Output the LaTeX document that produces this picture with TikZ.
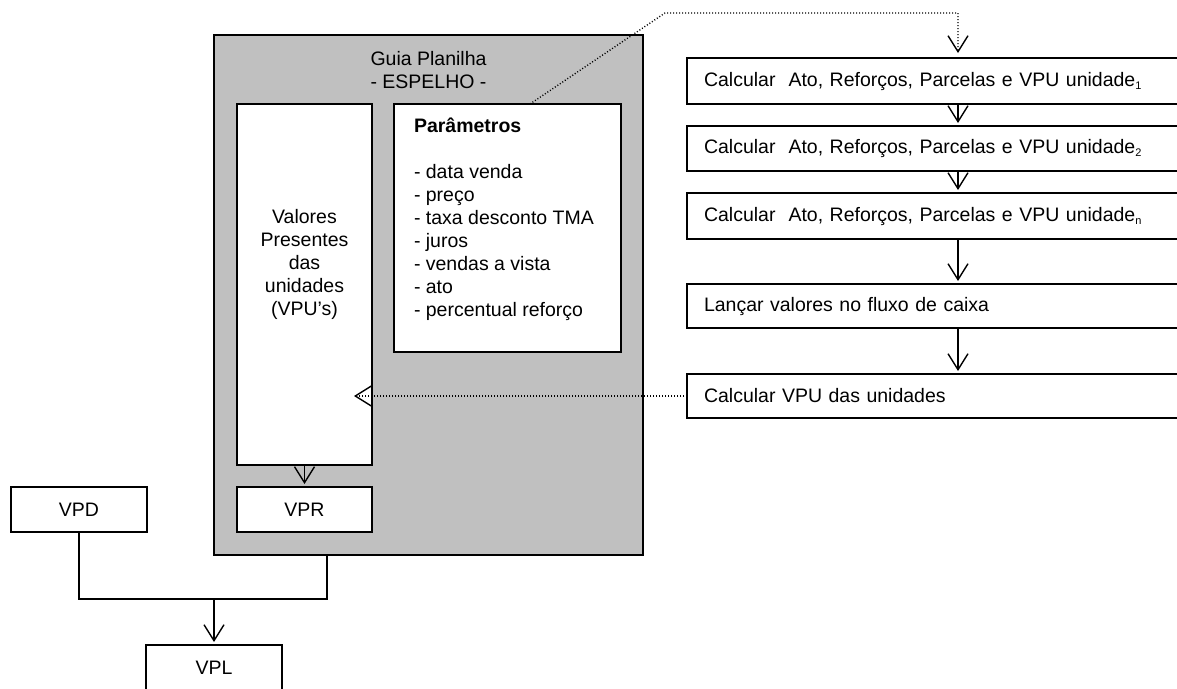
\documentclass[tikz,border=0pt]{standalone}
\usepackage{fontspec}
\setmainfont{Liberation Sans}
\usetikzlibrary{arrows.meta,calc}
\definecolor{panelgrey}{HTML}{C0C0C0}
\begin{document}
\begin{tikzpicture}[x=1pt,y=-1pt,
  every node/.style={font=\fontsize{19.5}{23}\selectfont, inner sep=0pt, outer sep=0pt},
  box/.style={draw, line width=1.9pt, fill=white, rectangle},
  rbox/.style={box, text width=474pt, align=left, inner xsep=17pt, minimum height=45pt},
  arr/.style={line width=1.4pt, -{Straight Barb[length=16pt,width=20pt]}, shorten >=3pt},
  dots/.style={line width=1.1pt, dash pattern=on 1pt off 2pt},
  sub/.style={font=\fontsize{11}{12}\selectfont},
]
\useasboundingbox (0,0) rectangle (1177,688);
\clip (0,0) rectangle (1177,688);

% spreadsheet panel
\node[box, fill=panelgrey, line width=2.7pt, minimum width=429pt, minimum height=520pt] (guia) at (428.5,295) {};
\node[align=center] (titulo) at (428.5,70.5) {Guia Planilha\\- ESPELHO -};

\node[box, minimum width=135pt, minimum height=361pt] (vpu) at (304.5,284.5) {};
\node[align=center] (vputxt) at (304.5,264) {Valores\\Presentes\\das\\unidades\\(VPU’s)};

\node[box, minimum width=227pt, minimum height=248pt] (param) at (507.5,228) {};
\node[align=left, anchor=west] (paramtxt) at (414,219) {\textbf{Parâmetros}\\[23pt]- data venda\\- preço\\- taxa desconto TMA\\- juros\\- vendas a vista\\- ato\\- percentual reforço};

\node[box, minimum width=135pt, minimum height=45pt] (vpr) at (304.5,509.5) {VPR};

% outside boxes
\node[box, minimum width=136.5pt, minimum height=45pt] (vpd) at (79,509.5) {VPD};
\node[box, minimum width=135.5pt, minimum height=45pt] (vpl) at (214,667.5) {VPL};

% calculation steps
\newcommand{\unidx}[1]{unidade\raisebox{-3pt}{\fontsize{11}{12}\selectfont #1}}
\node[rbox, minimum height=46pt] (c1) at (941,81) {Calcular~~Ato, Reforços, Parcelas e VPU \unidx{1}};
\node[rbox] (c2) at (941,148.5) {Calcular~~Ato, Reforços, Parcelas e VPU \unidx{2}};
\node[rbox, minimum height=46pt] (cn) at (941,216) {Calcular~~Ato, Reforços, Parcelas e VPU \unidx{n}};
\node[rbox, minimum height=44pt] (lanc) at (941,306) {Lançar valores no fluxo de caixa};
\node[rbox, minimum height=44pt] (cvpu) at (941,396) {Calcular VPU das unidades};

% connectors
\coordinate (pk) at ([xshift=136pt]param.north west);
\coordinate (bend) at (665,13);
\coordinate (colx) at (958,13);
\draw[dots, arr, shorten >=5pt] (pk) -- (bend) -- (colx) -- (colx |- c1.north);
\draw[arr] (c1.south -| colx) -- (c2.north -| colx);
\draw[arr] (c2.south -| colx) -- (cn.north -| colx);
\draw[arr] (cn.south -| colx) -- (lanc.north -| colx);
\draw[arr] (lanc.south -| colx) -- (cvpu.north -| colx);

\coordinate (vputip) at ($(vpu.east |- cvpu.west)+(-18,0)$);
\draw[dots, arr, shorten >=0pt] (cvpu.west) -- (vputip);

\draw[arr] (vpu.south) -- (vpr.north);

\coordinate (junc) at (214,599);
\coordinate (gb) at ([xshift=-101.5pt]guia.south);
\draw[line width=1.4pt] (vpd.south) |- (junc) -| (gb);
\draw[arr] (junc) -- (vpl.north);
\end{tikzpicture}
\end{document}
